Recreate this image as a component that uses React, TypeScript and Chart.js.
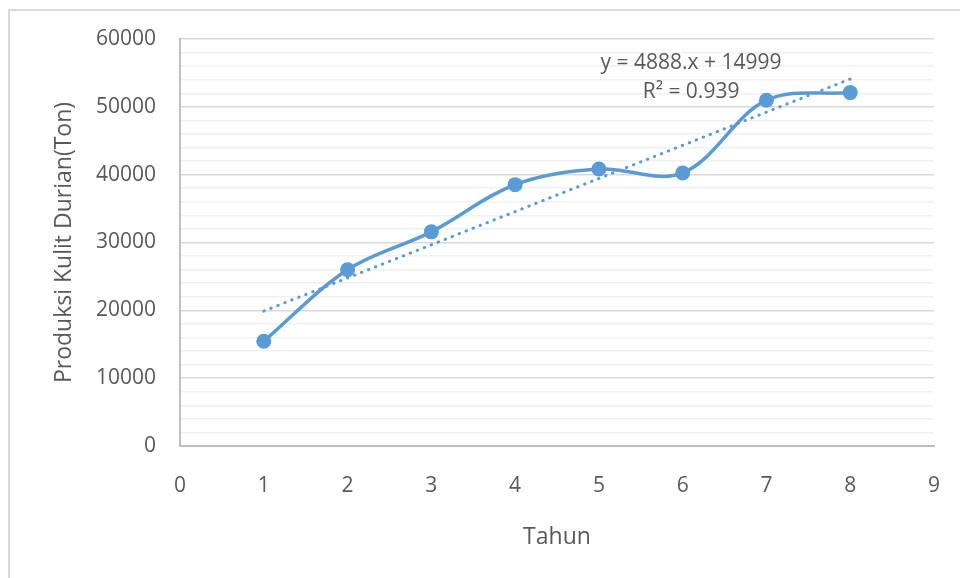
import React, { useEffect, useRef } from 'react';
import { Chart, registerables } from 'chart.js';

Chart.register(...registerables);

const years = [1, 2, 3, 4, 5, 6, 7, 8];
const production = [15440, 25980, 31570, 38530, 40830, 40250, 50980, 52100];
const trendYears = [1, 8];
const trendValues = [19887, 54103];
const equationLines = ['y = 4888.x + 14999', 'R² = 0.939'];
const equationAnchor = { x: 6.1, y: 56470 };
const xTitle = 'Tahun';
const yTitle = 'Produksi Kulit Durian(Ton)';
const xMin = 0;
const xMax = 9;
const yMin = 0;
const yMax = 60000;
const yMinorStep = 2000;
const yMajorStep = 10000;

const BLUE = '#5B9BD5';
const TEXT = '#595959';
const FONT = '"Open Sans", "DejaVu Sans", sans-serif';

const equationPlugin = {
  id: 'equationLabel',
  afterDatasetsDraw(chart: any) {
    const { ctx, scales } = chart;
    const px = scales.x.getPixelForValue(equationAnchor.x);
    const py = scales.y.getPixelForValue(equationAnchor.y);
    ctx.save();
    ctx.font = `21px ${FONT}`;
    ctx.fillStyle = TEXT;
    ctx.textAlign = 'center';
    ctx.textBaseline = 'middle';
    equationLines.forEach((t, i) => ctx.fillText(t, px, py + i * 29));
    ctx.restore();
  },
};

export default function App() {
  const ref = useRef<HTMLCanvasElement | null>(null);

  useEffect(() => {
    if (!ref.current) return;
    const chart = new Chart(ref.current, {
      type: 'line',
      data: {
        datasets: [
          {
            label: 'Produksi',
            data: years.map((x, i) => ({ x, y: production[i] })),
            borderColor: BLUE,
            backgroundColor: BLUE,
            borderWidth: 3.5,
            pointRadius: 7.5,
            pointBackgroundColor: BLUE,
            pointBorderColor: BLUE,
            pointBorderWidth: 0,
            tension: 0.35,
            fill: false,
            order: 2,
          },
          {
            label: 'Trend',
            data: trendYears.map((x, i) => ({ x, y: trendValues[i] })),
            borderColor: BLUE,
            borderWidth: 3,
            borderDash: [0.5, 7],
            borderCapStyle: 'round',
            pointRadius: 0,
            tension: 0,
            fill: false,
            order: 1,
          },
        ],
      },
      options: {
        responsive: false,
        animation: false,
        layout: { padding: { left: 0, top: 39, right: 26, bottom: 0 } },
        plugins: {
          legend: { display: false },
          tooltip: { enabled: false },
        },
        scales: {
          x: {
            type: 'linear',
            min: xMin,
            max: xMax,
            ticks: {
              stepSize: 1,
              autoSkip: false,
              padding: 27,
              color: TEXT,
              font: { family: FONT, size: 21 },
            },
            grid: { display: false, drawTicks: false },
            border: { display: true, color: '#BFBFBF', width: 2 },
            title: {
              display: true,
              text: xTitle,
              color: TEXT,
              font: { family: FONT, size: 23 },
              padding: { top: 0, bottom: 27 },
            },
            afterFit(scale: any) {
              scale.height = 132;
              scale.paddingRight = 0;
              scale.paddingLeft = 0;
            },
          },
          y: {
            type: 'linear',
            min: yMin,
            max: yMax,
            ticks: {
              stepSize: yMinorStep,
              autoSkip: false,
              padding: 24,
              color: TEXT,
              font: { family: FONT, size: 21 },
              callback: (v: any) => (Number(v) % yMajorStep === 0 ? String(v) : ''),
            },
            grid: {
              drawTicks: false,
              lineWidth: 1.5,
              color: (c: any) =>
                c.tick && c.tick.value % yMajorStep === 0 ? '#D9D9D9' : '#F0F0F0',
            },
            border: { display: true, color: '#BFBFBF', width: 2 },
            title: {
              display: true,
              text: yTitle,
              color: TEXT,
              font: { family: FONT, size: 23 },
              padding: { top: 51, bottom: 0 },
            },
            afterFit(scale: any) {
              scale.width = 180;
              scale.paddingTop = 0;
              scale.paddingBottom = 0;
            },
          },
        },
      },
      plugins: [equationPlugin],
    } as any);
    return () => chart.destroy();
  }, []);

  return (
    <div style={{ position: 'fixed', left: 0, top: 0, width: 960, height: 578, background: '#fff' }}>
      <canvas ref={ref} width={960} height={578} style={{ position: 'absolute', left: 0, top: 0 }} />
      <div
        style={{
          position: 'absolute',
          left: 8,
          top: 9,
          width: 960,
          height: 578,
          borderLeft: '2px solid #D9D9D9',
          borderTop: '2px solid #D9D9D9',
          pointerEvents: 'none',
        }}
      />
    </div>
  );
}
